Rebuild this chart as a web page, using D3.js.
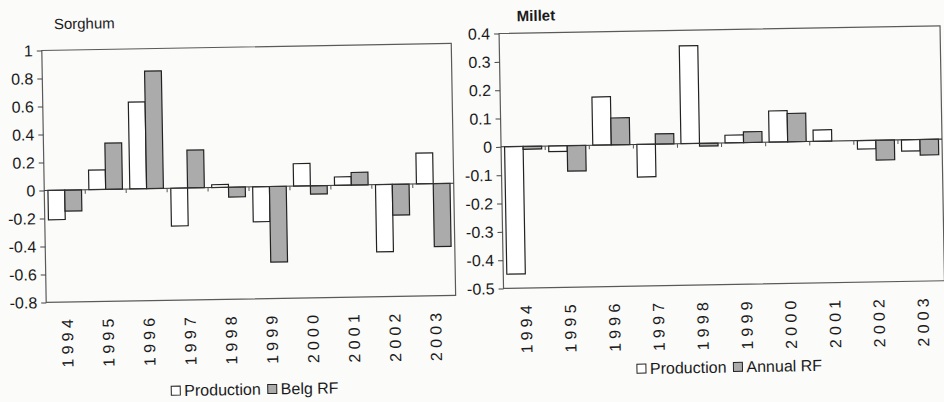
<!DOCTYPE html>
<html>
<head>
<meta charset="utf-8">
<script src="https://cdn.jsdelivr.net/npm/d3@7"></script>
<style>
  html, body { margin: 0; padding: 0; background: #fbfbfa; }
  svg { display: block; }
  text { font-family: "Liberation Sans", Arial, sans-serif; fill: #1a1a1a; }
</style>
</head>
<body>
<div id="chart"></div>
<script>
// --- Data ---
const years = ["1994", "1995", "1996", "1997", "1998", "1999", "2000", "2001", "2002", "2003"];

const sorghumProduction = [-0.21, 0.14, 0.62, -0.27, 0.02, -0.25, 0.16, 0.06, -0.48, 0.22];
const sorghumBelgRF = [-0.15, 0.33, 0.84, 0.27, -0.07, -0.54, -0.06, 0.09, -0.22, -0.45];
const sorghumTicks = [1, 0.8, 0.6, 0.4, 0.2, 0, -0.2, -0.4, -0.6, -0.8];

const milletProduction = [-0.45, -0.02, 0.17, -0.115, 0.345, 0.027, 0.11, 0.04, -0.03, -0.04];
const milletAnnualRF = [-0.01, -0.09, 0.095, 0.036, -0.01, 0.038, 0.1, 0, -0.07, -0.055];
const milletTicks = [0.4, 0.3, 0.2, 0.1, 0, -0.1, -0.2, -0.3, -0.4, -0.5];

const W = 944, H = 402;
const prodFill = "#ffffff";
const rfFill = "#ababab";

const svg = d3.select("#chart").append("svg")
    .attr("width", W)
    .attr("height", H);

// the scanned page is slightly tilted
const root = svg.append("g").attr("transform", `rotate(-1, ${W / 2}, ${H / 2})`);

function drawPanel(p) {
    const g = root.append("g");

    const x = d3.scaleBand().domain(years)
        .range([p.left, p.right])
        .paddingInner(p.padIn)
        .paddingOuter(p.padOut);
    const xs = d3.scaleBand().domain([0, 1]).range([0, x.bandwidth()]);
    const y = d3.scaleLinear().domain([p.ticks[p.ticks.length - 1], p.ticks[0]]).range([p.bottom, p.top]);

    // plot frame
    g.append("rect")
        .attr("x", p.left).attr("y", p.top)
        .attr("width", p.right - p.left).attr("height", p.bottom - p.top)
        .attr("fill", "none").attr("stroke", "#5a5a5a").attr("stroke-width", 1.2);

    // y axis
    const yAxis = g.append("g")
        .attr("transform", `translate(${p.left},0)`)
        .call(d3.axisLeft(y).tickValues(p.ticks).tickFormat(d => String(d)).tickSize(5).tickPadding(4));
    yAxis.select(".domain").remove();
    yAxis.selectAll("line").attr("stroke", "#444");
    yAxis.selectAll("text")
        .attr("font-size", null)
        .style("font-size", "16px")
        .style("font-family", "'Liberation Sans', Arial, sans-serif")
        .attr("fill", "#1a1a1a");

    // bars
    const series = [p.production, p.rf];
    const fills = [prodFill, rfFill];
    series.forEach((vals, si) => {
        g.append("g").selectAll("rect")
            .data(vals)
            .join("rect")
            .attr("x", (d, i) => x(years[i]) + xs(si))
            .attr("width", xs.bandwidth())
            .attr("y", d => y(Math.max(0, d)))
            .attr("height", d => Math.abs(y(d) - y(0)))
            .attr("fill", fills[si])
            .attr("stroke", "#222")
            .attr("stroke-width", 1.2);
    });

    // zero line with category-boundary ticks
    g.append("line")
        .attr("x1", p.left).attr("x2", p.right)
        .attr("y1", y(0)).attr("y2", y(0))
        .attr("stroke", "#333").attr("stroke-width", 1.1);
    const bounds = years.slice(1).map(yr => x(yr) - x.step() * x.paddingInner() / 2);
    g.append("g").selectAll("line")
        .data(bounds)
        .join("line")
        .attr("x1", d => d).attr("x2", d => d)
        .attr("y1", y(0)).attr("y2", y(0) + 4)
        .attr("stroke", "#555");

    // year labels
    g.append("g").selectAll("text")
        .data(years)
        .join("text")
        .attr("transform", d => `translate(${x(d) + x.bandwidth() / 2},${p.bottom + 13}) rotate(-90)`)
        .attr("text-anchor", "end")
        .attr("dy", "0.36em")
        .style("font-size", "16px")
        .style("letter-spacing", "4.2px")
        .text(d => d);

    // title
    g.append("text")
        .attr("x", p.titleX).attr("y", p.titleY)
        .style("font-size", p.titleSize)
        .style("font-weight", p.titleWeight)
        .text(p.title);

    // legend
    const lg = g.append("g").attr("transform", `translate(${p.legendX},${p.legendY})`);
    let off = 0;
    [p.prodLabel, p.rfLabel].forEach((lab, i) => {
        lg.append("rect")
            .attr("x", off).attr("y", -10)
            .attr("width", 9).attr("height", 9)
            .attr("fill", fills[i]).attr("stroke", "#222");
        const t = lg.append("text")
            .attr("x", off + 13).attr("y", 0)
            .style("font-size", "16px")
            .text(lab);
        off += 13 + t.node().getComputedTextLength() + 7;
    });
}

drawPanel({
    left: 44.5, right: 454, top: 43, bottom: 295,
    padIn: 0.18, padOut: 0.09,
    ticks: sorghumTicks,
    production: sorghumProduction, rf: sorghumBelgRF,
    title: "Sorghum", titleX: 57, titleY: 22, titleSize: "15px", titleWeight: "normal",
    prodLabel: "Production", rfLabel: "Belg RF",
    legendX: 168, legendY: 391
});

drawPanel({
    left: 502, right: 943, top: 34, bottom: 289,
    padIn: 0.16, padOut: 0.08,
    ticks: milletTicks,
    production: milletProduction, rf: milletAnnualRF,
    title: "Millet", titleX: 520, titleY: 22, titleSize: "15px", titleWeight: "bold",
    prodLabel: "Production", rfLabel: "Annual RF",
    legendX: 634, legendY: 377
});
</script>
</body>
</html>
